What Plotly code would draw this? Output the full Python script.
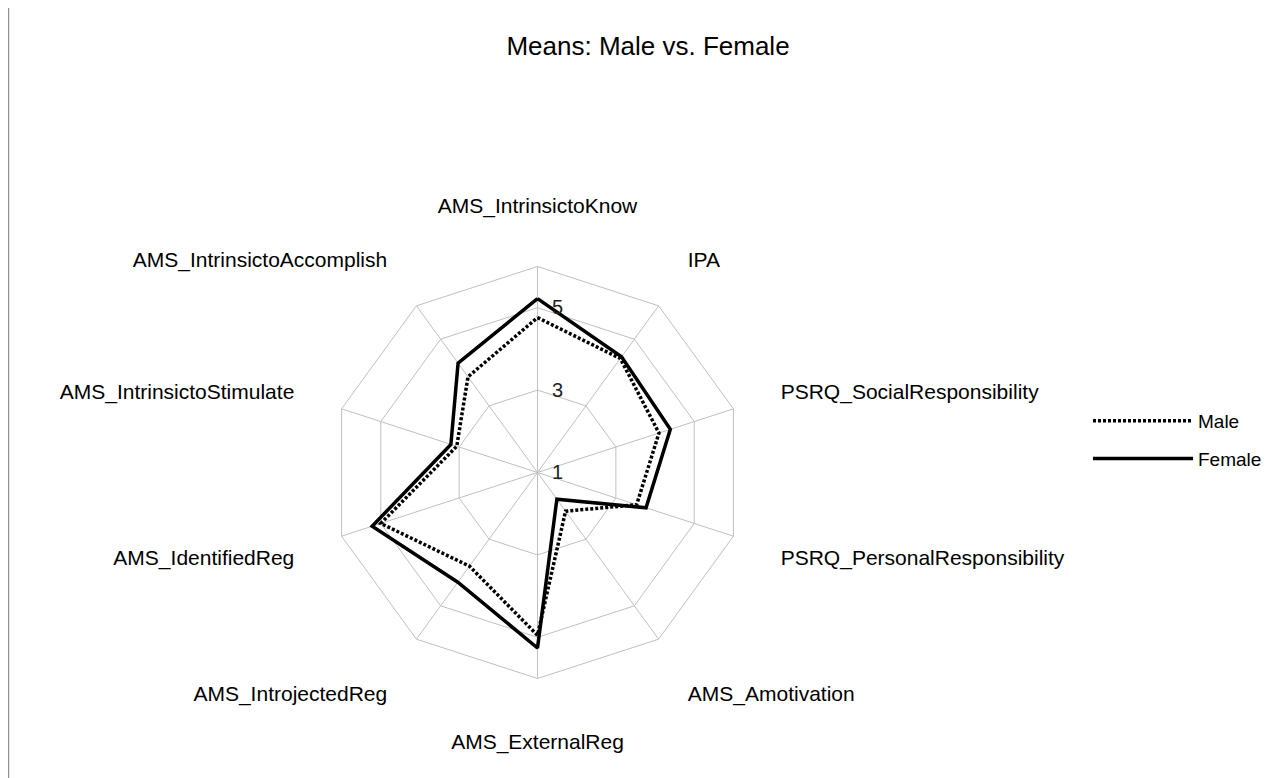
import plotly.graph_objects as go

categories = ["AMS_IntrinsictoKnow", "IPA", "PSRQ_SocialResponsibility",
              "PSRQ_PersonalResponsibility", "AMS_Amotivation", "AMS_ExternalReg",
              "AMS_IntrojectedReg", "AMS_IdentifiedReg", "AMS_IntrinsictoStimulate",
              "AMS_IntrinsictoAccomplish"]
male = [4.76, 4.42, 4.10, 3.53, 2.16, 4.95, 3.81, 5.00, 3.06, 3.87]
female = [5.22, 4.47, 4.39, 3.77, 1.80, 5.26, 4.29, 5.22, 3.21, 4.28]
radial_ticks = [1, 3, 5]

OFF = 8  # page body margin
W, H = 1277 - OFF, 778 - OFF
cx, cy, R = 537.5 - OFF, 472.5 - OFF, 206

fig = go.Figure()
fig.add_trace(go.Scatterpolar(
    r=male + male[:1], theta=categories + categories[:1], mode="lines", name="Male",
    legendgroup="m",
    line=dict(color="black", width=3.5, dash="3px,2px")))
fig.add_trace(go.Scatterpolar(
    r=female + female[:1], theta=categories + categories[:1], mode="lines", name="Female",
    legendgroup="f",
    line=dict(color="black", width=3.5)))

grid = "#c0c0c0"
fig.update_layout(
    width=W, height=H,
    margin=dict(l=0, r=0, t=0, b=0),
    paper_bgcolor="white",
    font=dict(family="Liberation Sans, Arial, sans-serif", color="black"),
    title=dict(text="Means: Male vs. Female", x=(648 - OFF) / W, xanchor="center",
               y=1 - (46 - OFF) / H, yanchor="middle", yref="container",
               font=dict(size=26, color="black")),
    polar=dict(
        domain=dict(x=[(cx - R) / W, (cx + R) / W], y=[(H - cy - R) / H, (H - cy + R) / H]),
        bgcolor="white",
        gridshape="linear",
        angularaxis=dict(rotation=90, direction="clockwise", categoryorder="array",
                         categoryarray=categories,
                         showline=True, linecolor=grid, linewidth=1,
                         gridcolor=grid, gridwidth=1,
                         ticks="outside", ticklen=45, tickcolor="rgba(0,0,0,0)",
                         tickfont=dict(size=21, color="black")),
        radialaxis=dict(range=[1, 6], angle=90, tickangle=90, tickvals=radial_ticks,
                        ticktext=[str(v) for v in radial_ticks],
                        showline=False, gridcolor=grid, gridwidth=1,
                        ticks="outside", ticklen=10, tickcolor="rgba(0,0,0,0)",
                        tickfont=dict(size=20, color="#222222")),
    ),
    legend=dict(x=(1088 - OFF) / W, xanchor="left", y=1 - (440 - OFF) / H, yanchor="middle",
                font=dict(size=19, color="black"), itemwidth=100,
                tracegroupgap=10, bgcolor="rgba(0,0,0,0)"),
    shapes=[dict(type="line", xref="paper", yref="paper", x0=0.6 / W, x1=0.6 / W, y0=0, y1=1,
                 line=dict(color="#909090", width=1.2))],
)

fig.write_html("out.html")
